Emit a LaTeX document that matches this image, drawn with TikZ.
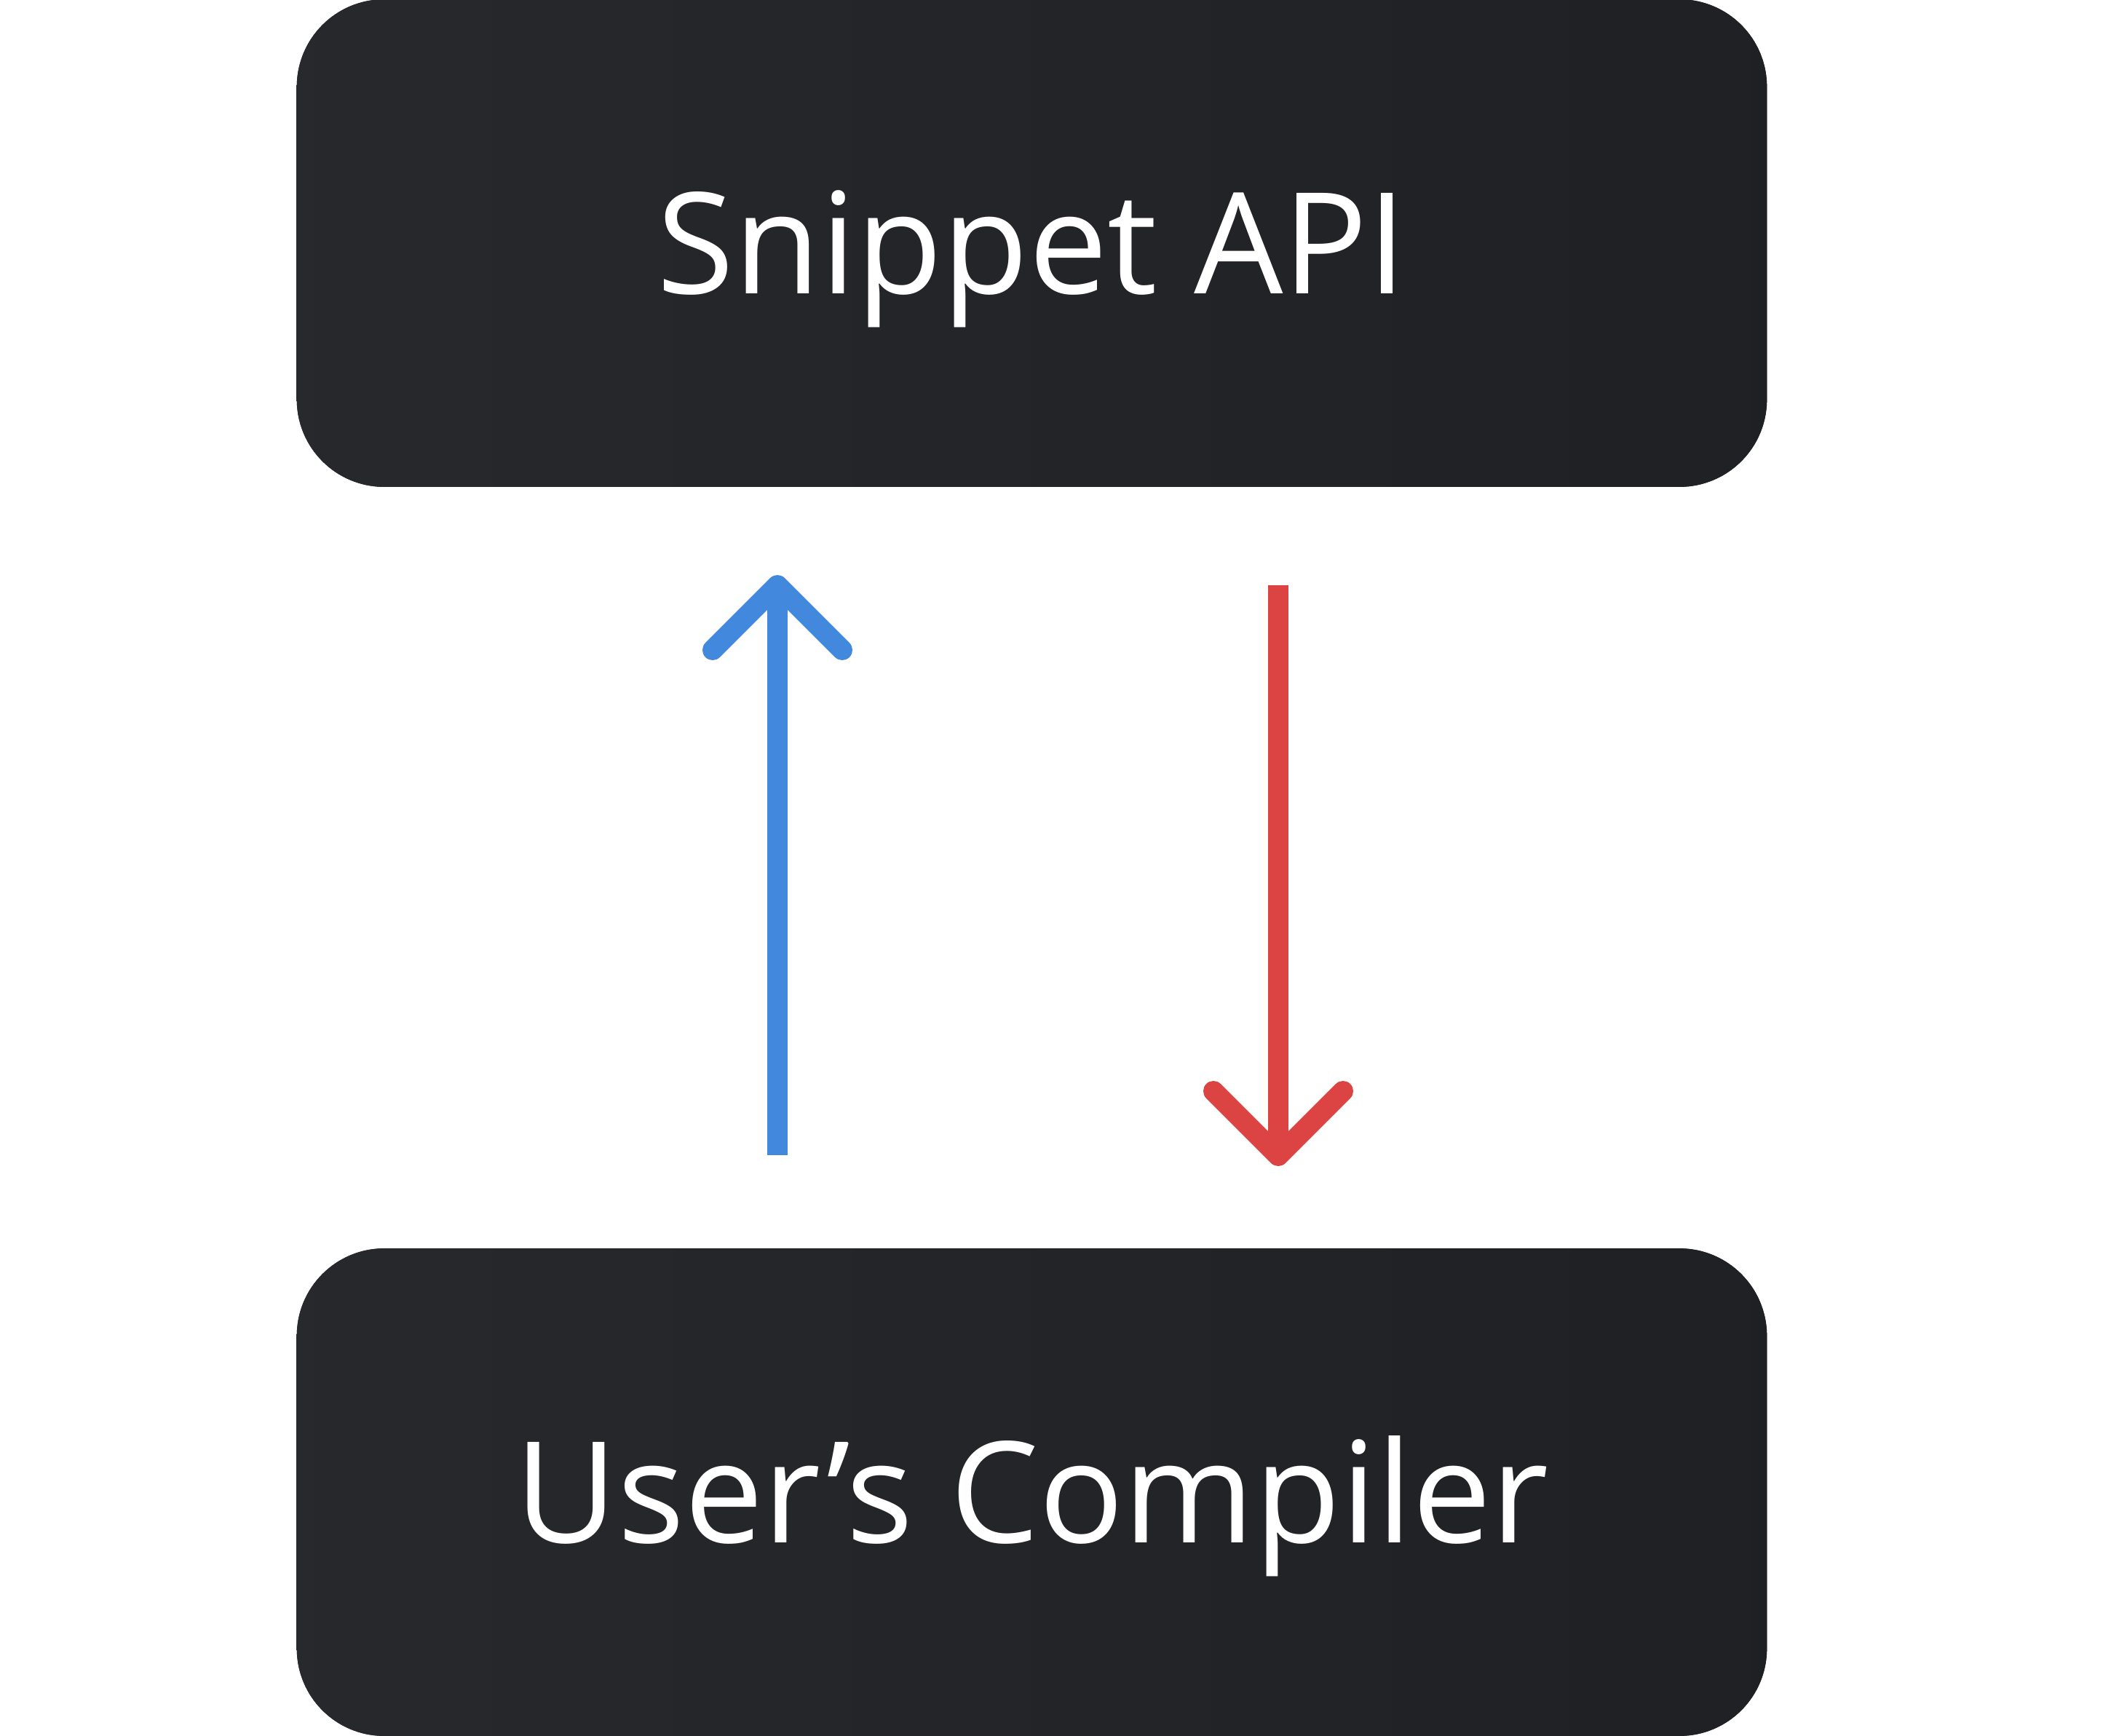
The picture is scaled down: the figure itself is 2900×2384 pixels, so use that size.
\documentclass[tikz,border=0pt]{standalone}
\usepackage{fontspec}
\setmainfont{Open Sans}
\usetikzlibrary{calc,backgrounds}
\definecolor{boxL}{HTML}{28292D}
\definecolor{boxR}{HTML}{1F2023}
\definecolor{upblue}{HTML}{4289DD}
\definecolor{downred}{HTML}{DC4444}
\begin{document}
\begin{tikzpicture}[x=0.01cm,y=-0.01cm,
  darkbox/.style={rectangle, minimum width=20.17cm, minimum height=6.68cm,
    inner sep=0pt, draw=none, text=white,
    text height=39.5pt, text depth=0pt,
    font=\fontsize{55}{60}\selectfont},
  boxfill/.style={rounded corners=1.2cm, fill=boxL,
    path picture={\shade[left color=boxL, right color=boxR]
      ([xshift=-1cm,yshift=-1cm]path picture bounding box.south west) rectangle
      ([xshift=1cm,yshift=1cm]path picture bounding box.north east);}},
  shaft/.style={line width=0.28cm, line cap=butt},
  barb/.style={line width=0.28cm, line cap=round, line join=round}]
\useasboundingbox (0,0) rectangle (2900,2384);
\node[darkbox] (api) at (1417.5,334) {Snippet API};
\node[darkbox] (comp) at (1417.5,2050) {User’s Compiler};
\begin{scope}[on background layer]
  \path[boxfill] (api.west) |- (api.north east) |- (api.south west) -- cycle;
  \path[boxfill] (comp.west) |- (comp.north east) |- (comp.south west) -- cycle;
\end{scope}
% blue arrow (up)
\coordinate (bstart) at (1068,1587);
\coordinate (btip) at (1068,804);
\draw[shaft, upblue] (bstart) -- ($(btip)+(0,10)$);
\draw[barb, upblue] ($(btip)+(-89,89)$) -- (btip) -- ($(btip)+(89,89)$);
% red arrow (down)
\coordinate (rstart) at (1756,804);
\coordinate (rtip) at (1756,1588);
\draw[shaft, downred] (rstart) -- ($(rtip)+(0,-10)$);
\draw[barb, downred] ($(rtip)+(-89,-89)$) -- (rtip) -- ($(rtip)+(89,-89)$);
\end{tikzpicture}
\end{document}
